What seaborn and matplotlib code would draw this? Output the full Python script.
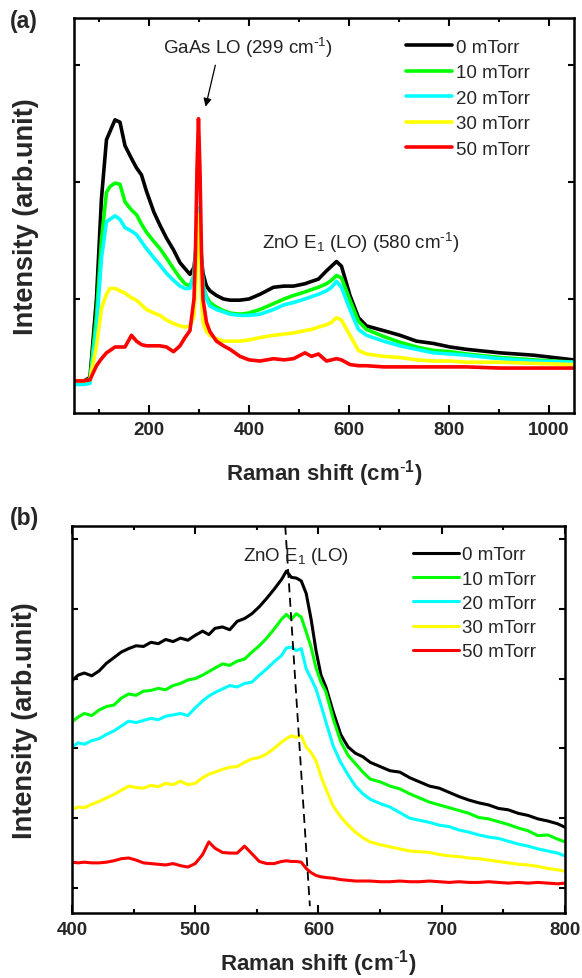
import numpy as np
import pandas as pd
import seaborn as sns
import matplotlib.pyplot as plt
from matplotlib.ticker import MultipleLocator

sns.set_style('ticks')
plt.rcParams['font.family'] = ['Liberation Sans', 'DejaVu Sans']
plt.rcParams['mathtext.default'] = 'regular'

# ---- data ----
labels = ['0 mTorr', '10 mTorr', '20 mTorr', '30 mTorr', '50 mTorr']
colors = ['#000000', '#00ff00', '#00ffff', '#ffff00', '#ff0000']

# (a) full spectra
shift_a = [50, 70, 82, 95, 105, 115, 122, 132, 142, 152,
           165, 175, 185, 195, 210, 222, 235, 249, 262, 272,
           282, 290, 293, 296, 299, 302, 305, 308, 315, 322,
           335, 349, 362, 382, 400, 422, 449, 470, 489, 512,
           525, 539, 555, 565, 575, 585, 602, 619, 635, 669,
           702, 735, 769, 802, 835, 902, 969, 1049]
a_0 = [0.30, 0.30, 0.33, 1.00, 1.86, 2.36, 2.43, 2.53, 2.51, 2.31,
       2.20, 2.12, 2.06, 1.92, 1.74, 1.63, 1.52, 1.42, 1.31, 1.26,
       1.21, 1.27, 1.38, 1.58, 1.72, 1.55, 1.35, 1.22, 1.11, 1.07,
       1.03, 1.00, 0.99, 0.99, 1.00, 1.04, 1.10, 1.11, 1.11, 1.13,
       1.15, 1.17, 1.24, 1.28, 1.32, 1.28, 1.03, 0.84, 0.77, 0.73,
       0.69, 0.64, 0.62, 0.59, 0.57, 0.54, 0.52, 0.48]
a_10 = [0.29, 0.29, 0.31, 0.86, 1.51, 1.91, 1.96, 1.99, 1.98, 1.83,
        1.76, 1.72, 1.64, 1.57, 1.49, 1.43, 1.35, 1.26, 1.18, 1.13,
        1.11, 1.20, 1.35, 1.60, 1.75, 1.55, 1.30, 1.12, 1.02, 0.97,
        0.93, 0.90, 0.88, 0.87, 0.88, 0.91, 0.96, 1.00, 1.03, 1.06,
        1.08, 1.10, 1.13, 1.16, 1.20, 1.18, 0.99, 0.81, 0.74, 0.68,
        0.63, 0.59, 0.56, 0.55, 0.53, 0.50, 0.48, 0.46]
a_20 = [0.27, 0.27, 0.28, 0.75, 1.35, 1.66, 1.68, 1.71, 1.68, 1.61,
        1.58, 1.55, 1.49, 1.43, 1.35, 1.29, 1.22, 1.16, 1.11, 1.09,
        1.09, 1.20, 1.40, 1.65, 1.78, 1.60, 1.35, 1.12, 1.00, 0.94,
        0.91, 0.89, 0.87, 0.86, 0.86, 0.87, 0.91, 0.95, 0.97, 1.00,
        1.02, 1.04, 1.07, 1.10, 1.15, 1.10, 0.91, 0.74, 0.69, 0.64,
        0.60, 0.57, 0.54, 0.53, 0.52, 0.49, 0.47, 0.46]
a_30 = [0.30, 0.30, 0.31, 0.60, 0.92, 1.04, 1.09, 1.09, 1.07, 1.05,
        1.01, 0.99, 0.95, 0.91, 0.88, 0.86, 0.82, 0.79, 0.77, 0.76,
        0.77, 0.85, 1.05, 1.45, 1.72, 1.40, 1.00, 0.80, 0.72, 0.69,
        0.66, 0.64, 0.64, 0.64, 0.65, 0.67, 0.69, 0.70, 0.71, 0.73,
        0.74, 0.76, 0.78, 0.80, 0.84, 0.82, 0.69, 0.56, 0.53, 0.51,
        0.50, 0.48, 0.47, 0.47, 0.46, 0.46, 0.45, 0.44]
a_50 = [0.30, 0.30, 0.31, 0.43, 0.49, 0.54, 0.56, 0.59, 0.59, 0.59,
        0.69, 0.64, 0.61, 0.60, 0.60, 0.60, 0.59, 0.55, 0.60, 0.67,
        0.73, 1.00, 1.40, 2.10, 2.54, 2.10, 1.40, 1.00, 0.80, 0.72,
        0.64, 0.60, 0.57, 0.51, 0.48, 0.47, 0.49, 0.48, 0.49, 0.54,
        0.51, 0.53, 0.47, 0.48, 0.49, 0.48, 0.44, 0.43, 0.43, 0.42,
        0.42, 0.42, 0.42, 0.42, 0.42, 0.41, 0.41, 0.41]

# (b) zoom on the ZnO E1(LO) region
shift_b = [400, 405, 410, 416, 422, 428, 434, 440, 446, 452,
           458, 464, 470, 476, 482, 488, 494, 500, 506, 511,
           516, 522, 528, 534, 540, 546, 552, 558, 564, 570,
           574, 578, 582, 586, 590, 594, 598, 602, 606, 612,
           618, 624, 630, 636, 642, 650, 658, 666, 674, 682,
           690, 698, 706, 714, 722, 730, 738, 746, 754, 762,
           770, 778, 786, 794, 800]
b_0 = [2.97, 3.05, 3.08, 3.04, 3.11, 3.22, 3.30, 3.38, 3.43, 3.47,
       3.46, 3.52, 3.50, 3.56, 3.53, 3.58, 3.55, 3.62, 3.68, 3.63,
       3.72, 3.74, 3.70, 3.82, 3.86, 3.93, 4.03, 4.15, 4.28, 4.42,
       4.54, 4.45, 4.44, 4.40, 4.22, 3.85, 3.40, 3.05, 2.88, 2.52,
       2.20, 2.02, 1.93, 1.88, 1.80, 1.74, 1.68, 1.66, 1.58, 1.52,
       1.46, 1.43, 1.37, 1.31, 1.26, 1.22, 1.19, 1.14, 1.12, 1.07,
       1.04, 0.99, 0.96, 0.92, 0.87]
b_10 = [2.38, 2.45, 2.50, 2.47, 2.55, 2.60, 2.62, 2.72, 2.78, 2.76,
        2.82, 2.83, 2.86, 2.84, 2.90, 2.93, 2.98, 3.00, 3.05, 3.10,
        3.15, 3.21, 3.19, 3.25, 3.28, 3.38, 3.47, 3.58, 3.71, 3.85,
        3.92, 3.85, 3.93, 3.88, 3.67, 3.45, 3.15, 2.95, 2.81, 2.42,
        2.10, 1.90, 1.78, 1.66, 1.56, 1.52, 1.46, 1.42, 1.35, 1.29,
        1.23, 1.19, 1.15, 1.11, 1.07, 1.01, 0.99, 0.95, 0.91, 0.86,
        0.82, 0.75, 0.76, 0.70, 0.66]
b_20 = [2.02, 2.08, 2.06, 2.11, 2.14, 2.20, 2.25, 2.32, 2.39, 2.37,
        2.40, 2.43, 2.41, 2.46, 2.48, 2.50, 2.47, 2.58, 2.68, 2.75,
        2.80, 2.85, 2.90, 2.88, 2.93, 2.95, 3.05, 3.14, 3.24, 3.33,
        3.44, 3.45, 3.40, 3.43, 3.14, 3.00, 2.85, 2.62, 2.38, 2.03,
        1.80, 1.62, 1.46, 1.35, 1.27, 1.21, 1.16, 1.08, 1.00, 0.97,
        0.94, 0.90, 0.88, 0.83, 0.80, 0.76, 0.73, 0.71, 0.67, 0.63,
        0.60, 0.56, 0.53, 0.50, 0.46]
b_30 = [1.13, 1.16, 1.15, 1.20, 1.24, 1.29, 1.34, 1.40, 1.46, 1.44,
        1.43, 1.47, 1.45, 1.50, 1.48, 1.53, 1.48, 1.50, 1.58, 1.63,
        1.66, 1.70, 1.73, 1.74, 1.80, 1.85, 1.87, 1.92, 2.00, 2.09,
        2.14, 2.18, 2.16, 2.18, 2.02, 1.94, 1.82, 1.60, 1.42, 1.17,
        1.02, 0.90, 0.80, 0.72, 0.66, 0.62, 0.59, 0.56, 0.53, 0.52,
        0.51, 0.48, 0.46, 0.45, 0.43, 0.42, 0.40, 0.38, 0.36, 0.34,
        0.33, 0.31, 0.28, 0.26, 0.24]
b_50 = [0.37, 0.36, 0.37, 0.36, 0.36, 0.37, 0.39, 0.42, 0.43, 0.40,
        0.36, 0.35, 0.34, 0.33, 0.35, 0.32, 0.30, 0.35, 0.48, 0.66,
        0.57, 0.51, 0.50, 0.50, 0.60, 0.49, 0.38, 0.35, 0.35, 0.38,
        0.39, 0.38, 0.38, 0.37, 0.28, 0.22, 0.18, 0.16, 0.15, 0.14,
        0.12, 0.11, 0.10, 0.10, 0.10, 0.09, 0.09, 0.10, 0.09, 0.09,
        0.10, 0.09, 0.08, 0.09, 0.08, 0.08, 0.09, 0.08, 0.07, 0.08,
        0.07, 0.08, 0.07, 0.06, 0.07]

# guide line through the E1(LO) peak in (b)
guide_x = [573, 593]
guide_y = [5.19, -0.26]


def long_form(shift, series):
    frames = []
    for lab, vals in zip(labels, series):
        frames.append(pd.DataFrame({'shift': shift, 'intensity': vals, 'pressure': lab}))
    return pd.concat(frames, ignore_index=True)


df_a = long_form(shift_a, [a_0, a_10, a_20, a_30, a_50])
df_b = long_form(shift_b, [b_0, b_10, b_20, b_30, b_50])
palette = dict(zip(labels, colors))

fig = plt.figure(figsize=(5.82, 9.79), dpi=100)
ax_a = fig.add_axes([0.1271, 0.5771, 0.8591, 0.4035])
ax_b = fig.add_axes([0.1237, 0.0664, 0.8471, 0.3953])

sns.lineplot(data=df_a, x='shift', y='intensity', hue='pressure', palette=palette,
             hue_order=labels, sort=False, estimator=None, linewidth=2.6, ax=ax_a)
sns.lineplot(data=df_b, x='shift', y='intensity', hue='pressure', palette=palette,
             hue_order=labels, sort=False, estimator=None, linewidth=2.2, ax=ax_b)

xlabel = 'Raman shift (cm$^{\\text{-}1}$)'

for ax in (ax_a, ax_b):
    for sp in ax.spines.values():
        sp.set_linewidth(1.8)
        sp.set_color('black')
    ax.tick_params(which='both', direction='in', top=True, right=True, width=1.5, color='black')
    ax.tick_params(axis='x', which='major', length=6, labelsize=13.5, pad=6)
    ax.tick_params(axis='x', which='minor', length=3)
    ax.tick_params(axis='y', which='major', length=4, labelleft=False)
    for t in ax.get_xticklabels():
        t.set_fontweight('bold')
    ax.set_ylabel('Intensity (arb.unit)', fontsize=19.5, fontweight='bold')
    ax.set_xlabel(xlabel, fontsize=16, fontweight='bold')

# (a)
ax_a.set_xlim(50, 1050)
ax_a.set_ylim(0.026, 3.40)
ax_a.xaxis.set_major_locator(MultipleLocator(200))
ax_a.xaxis.set_minor_locator(MultipleLocator(100))
ax_a.set_yticks([1, 2, 3])
ax_a.yaxis.set_label_coords(-0.07, 0.5)
ax_a.xaxis.set_label_coords(0.5, -0.112)
ax_a.text(398, 3.15, 'GaAs LO (299 cm$^{\\text{-}1}$)', fontsize=13.5, ha='center', va='center', color='#222222')
ax_a.annotate('', xy=(312, 2.62), xytext=(334, 3.02),
              arrowprops=dict(arrowstyle='-|>', color='black', lw=0.9, mutation_scale=12))
ax_a.text(624, 1.49, 'ZnO E$_1$ (LO) (580 cm$^{\\text{-}1}$)', fontsize=13.5, ha='center', va='center', color='#222222')
sns.move_legend(ax_a, 'upper left', bbox_to_anchor=(0.645, 0.972), title=None, frameon=False,
                fontsize=13.5, handlelength=2.45, handletextpad=0.2, labelspacing=0.45, borderpad=0)

# (b)
ax_b.set_xlim(400, 800)
ax_b.set_ylim(-0.358, 5.186)
ax_b.xaxis.set_major_locator(MultipleLocator(100))
ax_b.xaxis.set_minor_locator(MultipleLocator(50))
ax_b.set_yticks([0, 1, 2, 3, 4, 5])
ax_b.yaxis.set_label_coords(-0.068, 0.5)
ax_b.xaxis.set_label_coords(0.5, -0.088)
ax_b.plot(guide_x, guide_y, ls='--', color='black', lw=1.3, dashes=(5, 3))
ax_b.text(582, 4.76, 'ZnO E$_1$ (LO)', fontsize=13.5, ha='center', va='center', color='#222222')
sns.move_legend(ax_b, 'upper left', bbox_to_anchor=(0.672, 0.972), title=None, frameon=False,
                fontsize=13.5, handlelength=2.45, handletextpad=0.2, labelspacing=0.38, borderpad=0)

fig.text(0.017, 0.978, '(a)', fontsize=16.5, fontweight='bold', va='center', ha='left')
fig.text(0.017, 0.470, '(b)', fontsize=16.5, fontweight='bold', va='center', ha='left')

fig.savefig('out.png', dpi=100)
